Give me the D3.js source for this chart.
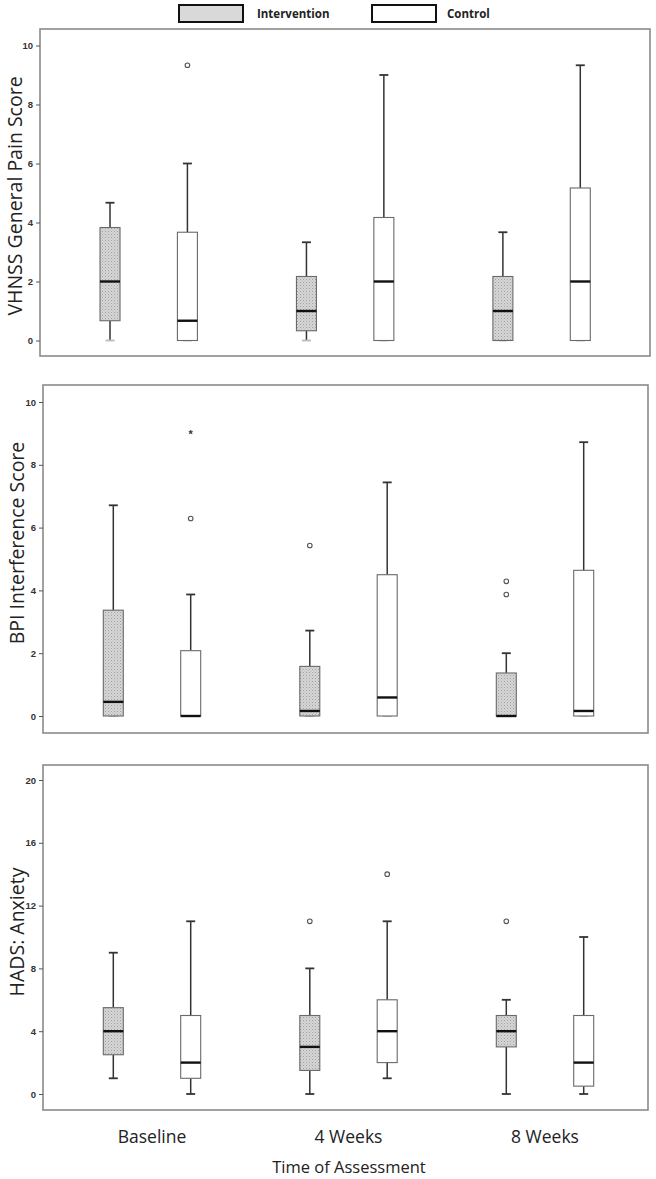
<!DOCTYPE html>
<html>
<head>
<meta charset="utf-8">
<script src="https://cdn.jsdelivr.net/npm/d3@7"></script>
<style>
  html, body { margin: 0; padding: 0; background: #fff; }
  svg { display: block; }
</style>
</head>
<body>
<svg id="chart" width="656" height="1179"></svg>
<script>
// ---------------- DATA ----------------
const categories = ["Baseline", "4 Weeks", "8 Weeks"];
const groups = ["Intervention", "Control"];

// five-number summaries: [min, q1, median, q3, max]
const painIntervention = [[0, 0.67, 2, 3.83, 4.67], [0, 0.33, 1, 2.17, 3.33], [0, 0, 1, 2.17, 3.67]];
const painControl      = [[0, 0, 0.67, 3.67, 6], [0, 0, 2, 4.17, 9], [0, 0, 2, 5.17, 9.33]];
const painOutliers = [
  { cat: "Baseline", group: "Control", value: 9.33, type: "circle" }
];
const painTicks = [0, 2, 4, 6, 8, 10];

const bpiIntervention = [[0, 0, 0.45, 3.37, 6.71], [0, 0, 0.16, 1.58, 2.72], [0, 0, 0, 1.37, 2]];
const bpiControl      = [[0, 0, 0, 2.08, 3.87], [0, 0, 0.59, 4.5, 7.44], [0, 0, 0.16, 4.64, 8.72]];
const bpiOutliers = [
  { cat: "Baseline", group: "Control", value: 9, type: "star" },
  { cat: "Baseline", group: "Control", value: 6.29, type: "circle" },
  { cat: "4 Weeks", group: "Intervention", value: 5.43, type: "circle" },
  { cat: "8 Weeks", group: "Intervention", value: 4.29, type: "circle" },
  { cat: "8 Weeks", group: "Intervention", value: 3.87, type: "circle" }
];
const bpiTicks = [0, 2, 4, 6, 8, 10];

const anxIntervention = [[1, 2.5, 4, 5.5, 9], [0, 1.5, 3, 5, 8], [0, 3, 4, 5, 6]];
const anxControl      = [[0, 1, 2, 5, 11], [1, 2, 4, 6, 11], [0, 0.5, 2, 5, 10]];
const anxOutliers = [
  { cat: "4 Weeks", group: "Intervention", value: 11, type: "circle" },
  { cat: "4 Weeks", group: "Control", value: 14, type: "circle" },
  { cat: "8 Weeks", group: "Intervention", value: 11, type: "circle" }
];
const anxTicks = [0, 4, 8, 12, 16, 20];

const xTitle = "Time of Assessment";

// ---------------- LAYOUT ----------------
const panels = [
  { title: "VHNSS General Pain Score", inter: painIntervention, ctrl: painControl, outliers: painOutliers,
    ticks: painTicks, domain: [0, 10],
    frame: { x0: 40, x1: 650, y0: 29, y1: 356 }, yRange: [340.5, 45.5], xRange: [50.5, 639.8],
    titleX: 15, titleY: 196, lowCap: "#bbb" },
  { title: "BPI Interference Score", inter: bpiIntervention, ctrl: bpiControl, outliers: bpiOutliers,
    ticks: bpiTicks, domain: [0, 10],
    frame: { x0: 43, x1: 648, y0: 385, y1: 733 }, yRange: [716, 402], xRange: [53.75, 643.25],
    titleX: 17, titleY: 543, lowCap: "#bbb" },
  { title: "HADS: Anxiety", inter: anxIntervention, ctrl: anxControl, outliers: anxOutliers,
    ticks: anxTicks, domain: [0, 20],
    frame: { x0: 43, x1: 648, y0: 765, y1: 1110 }, yRange: [1094, 780], xRange: [53.75, 643.25],
    titleX: 17, titleY: 932, lowCap: "#333" }
];

const svg = d3.select("#chart");

// stipple pattern
const defs = svg.append("defs");
const pat = defs.append("pattern").attr("id", "stipple").attr("patternUnits", "userSpaceOnUse")
  .attr("width", 3).attr("height", 3);
pat.append("rect").attr("width", 3).attr("height", 3).attr("fill", "#d6d6d6");
pat.append("rect").attr("x", 0).attr("y", 0).attr("width", 1).attr("height", 1).attr("fill", "#a0a0a0");
pat.append("rect").attr("x", 1.5).attr("y", 1.5).attr("width", 1).attr("height", 1).attr("fill", "#b4b4b4");

// legend
const legend = svg.append("g");
const legendItems = [
  { label: groups[0], fill: "#d9d9d9", x: 179, tx: 257 },
  { label: groups[1], fill: "#ffffff", x: 372, tx: 447 }
];
legendItems.forEach(d => {
  legend.append("rect").attr("x", d.x).attr("y", 5).attr("width", 64).attr("height", 17)
    .attr("fill", d.fill).attr("stroke", "#111").attr("stroke-width", 2);
  legend.append("text").attr("x", d.tx).attr("y", 18).text(d.label)
    .attr("font-family", "'Open Sans', sans-serif").attr("font-weight", "bold")
    .attr("font-size", 11.5).attr("fill", "#222");
});

const boxW = 20;

panels.forEach(p => {
  const g = svg.append("g");
  const y = d3.scaleLinear().domain(p.domain).range(p.yRange);
  const x = d3.scaleBand().domain(categories).range(p.xRange).paddingInner(0).paddingOuter(0);
  const xg = d3.scalePoint().domain(groups).range([-38.7, 38.7]);

  // frame
  g.append("rect").attr("x", p.frame.x0).attr("y", p.frame.y0)
    .attr("width", p.frame.x1 - p.frame.x0).attr("height", p.frame.y1 - p.frame.y0)
    .attr("fill", "none").attr("stroke", "#8a8a8a").attr("stroke-width", 1.6);

  // y axis
  const ax = g.append("g").attr("transform", `translate(${p.frame.x0},0)`)
    .call(d3.axisLeft(y).tickValues(p.ticks).tickSize(4).tickPadding(3).tickFormat(d3.format("d")));
  ax.select(".domain").remove();
  ax.selectAll(".tick line").attr("stroke", "#555");
  ax.selectAll(".tick text").attr("font-family", "'Liberation Sans', Arial, sans-serif")
    .attr("font-size", 9.5).attr("font-weight", "bold").attr("fill", "#333");

  // y title
  g.append("text").attr("transform", `translate(${p.titleX + 6.5},${p.titleY}) rotate(-90)`)
    .attr("text-anchor", "middle").attr("font-family", "'Open Sans', sans-serif")
    .attr("font-size", 19.5).attr("fill", "#222").text(p.title);

  // boxes
  const series = [
    { group: groups[0], data: p.inter, fill: "url(#stipple)" },
    { group: groups[1], data: p.ctrl, fill: "#fff" }
  ];
  series.forEach(s => {
    s.data.forEach((st, i) => {
      const cx = x(categories[i]) + x.bandwidth() / 2 + xg(s.group);
      const [mn, q1, md, q3, mx] = st;
      const bg = g.append("g");
      if (mx > q3) {
        bg.append("line").attr("x1", cx).attr("x2", cx).attr("y1", y(q3)).attr("y2", y(mx))
          .attr("stroke", "#333").attr("stroke-width", 1.5);
        bg.append("line").attr("x1", cx - 4.5).attr("x2", cx + 4.5).attr("y1", y(mx)).attr("y2", y(mx))
          .attr("stroke", "#333").attr("stroke-width", 1.8);
      }
      if (mn < q1) {
        bg.append("line").attr("x1", cx).attr("x2", cx).attr("y1", y(q1)).attr("y2", y(mn))
          .attr("stroke", "#333").attr("stroke-width", 1.5);
        bg.append("line").attr("x1", cx - 4.5).attr("x2", cx + 4.5).attr("y1", y(mn)).attr("y2", y(mn))
          .attr("stroke", p.lowCap).attr("stroke-width", 1.8);
      } else if (p.lowCap !== "#333") {
        bg.append("line").attr("x1", cx - 4.5).attr("x2", cx + 4.5).attr("y1", y(mn)).attr("y2", y(mn))
          .attr("stroke", p.lowCap).attr("stroke-width", 1.8);
      }
      bg.append("rect").attr("x", cx - boxW / 2).attr("y", y(q3)).attr("width", boxW)
        .attr("height", Math.max(0.5, y(q1) - y(q3)))
        .attr("fill", s.fill).attr("stroke", "#6a6a6a").attr("stroke-width", 1.1);
      bg.append("line").attr("x1", cx - boxW / 2).attr("x2", cx + boxW / 2).attr("y1", y(md)).attr("y2", y(md))
        .attr("stroke", "#111").attr("stroke-width", 2.4);
    });
  });

  // outliers
  p.outliers.forEach(o => {
    const cx = x(o.cat) + x.bandwidth() / 2 + xg(o.group);
    if (o.type === "circle") {
      g.append("circle").attr("cx", cx).attr("cy", y(o.value)).attr("r", 2.3)
        .attr("fill", "none").attr("stroke", "#555").attr("stroke-width", 1.1);
    } else {
      g.append("text").attr("x", cx).attr("y", y(o.value) + 5).attr("text-anchor", "middle")
        .attr("font-family", "'Liberation Sans', Arial, sans-serif").attr("font-size", 11)
        .attr("font-weight", "bold").attr("fill", "#333").text("*");
    }
  });

  // category labels under last panel
  if (p === panels[panels.length - 1]) {
    categories.forEach(c => {
      g.append("text").attr("x", x(c) + x.bandwidth() / 2).attr("y", 1143)
        .attr("text-anchor", "middle").attr("font-family", "'Open Sans', sans-serif")
        .attr("font-size", 17.5).attr("fill", "#222").text(c);
    });
    g.append("text").attr("x", 349).attr("y", 1173).attr("text-anchor", "middle")
      .attr("font-family", "'Open Sans', sans-serif").attr("font-size", 16.5)
      .attr("fill", "#222").text(xTitle);
  }
});
</script>
</body>
</html>
